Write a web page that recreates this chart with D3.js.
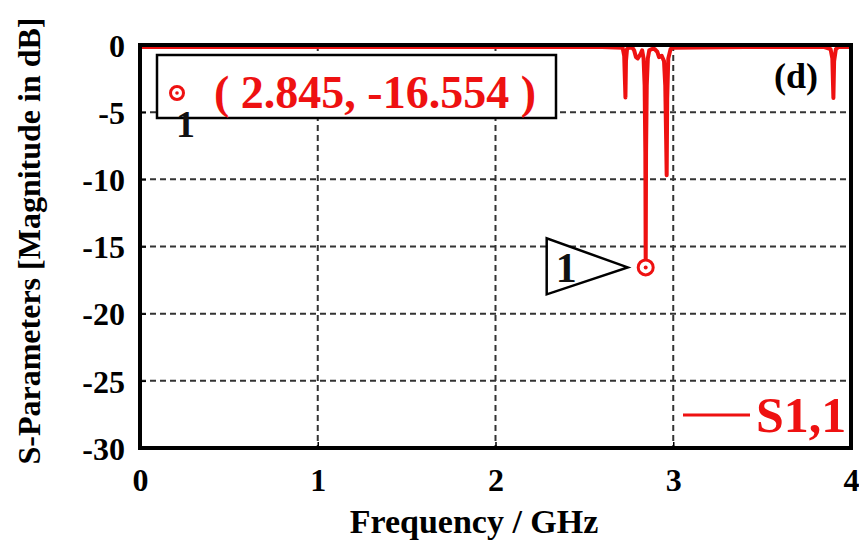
<!DOCTYPE html>
<html>
<head>
<meta charset="utf-8">
<script src="https://cdn.jsdelivr.net/npm/d3@7"></script>
<style>
  body { margin: 0; background: white; }
  svg { display: block; }
  text { font-family: "Liberation Serif", "Times New Roman", serif; font-weight: bold; }
</style>
</head>
<body>
<div id="chart"></div>
<script>
var width = 859
var height = 545
var margin = {top: 45, right: 8, bottom: 97, left: 140}

// Data

var freqGHz = [0, 1.0, 2.0, 2.60, 2.715, 2.724, 2.729, 2.731, 2.734, 2.74, 2.75,
    2.77, 2.78, 2.79, 2.80, 2.815, 2.825, 2.833, 2.839, 2.843, 2.845, 2.847, 2.851, 2.857, 2.865,
    2.88, 2.895, 2.91, 2.92, 2.935, 2.948, 2.955, 2.960, 2.963, 2.966, 2.972, 2.985,
    3.0, 3.4, 3.85, 3.885, 3.895, 3.899, 3.901, 3.905, 3.915, 3.93, 4.0];
var s11dB = [-0.15, -0.15, -0.15, -0.15, -0.2, -0.8, -3.0, -3.9, -1.2, -0.3, -0.2,
    -0.2, -0.4, -0.9, -1.0, -0.7, -0.4, -1.0, -3.0, -8.0, -16.554, -8.0, -3.0, -1.0, -0.4,
    -0.3, -0.3, -0.5, -0.9, -0.8, -1.2, -3.0, -7.0, -9.7, -4.0, -1.0, -0.3,
    -0.2, -0.15, -0.15, -0.3, -1.0, -3.0, -3.95, -1.2, -0.3, -0.15, -0.15];

var xTicks = [0, 1, 2, 3, 4];
var yTicks = [0, -5, -10, -15, -20, -25, -30];

var markerFreq = 2.845;
var markerDb = -16.554;
var markerLabel = "( 2.845, -16.554 )";
var seriesName = "S1,1";

var red = "#ee1111";

// Scales

var x_scale = d3.scaleLinear()
    .domain([0, 4])
    .range([margin.left, width - margin.right]);

var y_scale = d3.scaleLinear()
    .domain([-30, 0])
    .range([height - margin.bottom, margin.top]);

var svg = d3.select("#chart")
    .append("svg")
    .attr("width", width)
    .attr("height", height)
    .style("background-color", "white");

svg.append("clipPath")
    .attr("id", "plot-clip")
    .append("rect")
    .attr("x", margin.left)
    .attr("y", margin.top)
    .attr("width", width - margin.left - margin.right)
    .attr("height", height - margin.top - margin.bottom);

// Grid

var grid = svg.append("g")
    .attr("stroke", "#333")
    .attr("stroke-width", 2)
    .attr("stroke-dasharray", "6,4");

grid.selectAll("line.gx")
    .data(xTicks.slice(1, -1))
    .enter()
    .append("line")
    .attr("x1", function(d) { return x_scale(d); })
    .attr("x2", function(d) { return x_scale(d); })
    .attr("y1", margin.top)
    .attr("y2", height - margin.bottom);

grid.selectAll("line.gy")
    .data(yTicks.slice(1, -1))
    .enter()
    .append("line")
    .attr("x1", margin.left)
    .attr("x2", width - margin.right)
    .attr("y1", function(d) { return y_scale(d); })
    .attr("y2", function(d) { return y_scale(d); });

// Axes (ticks point inwards)

var xAxis = d3.axisBottom(x_scale).tickValues(xTicks).tickSize(-6).tickPadding(20).tickFormat(String);
var yAxis = d3.axisLeft(y_scale).tickValues(yTicks).tickSize(-6).tickPadding(15).tickFormat(String);

var gx = svg.append("g")
    .attr("transform", "translate(0," + (height - margin.bottom) + ")")
    .call(xAxis);
var gy = svg.append("g")
    .attr("transform", "translate(" + margin.left + ",0)")
    .call(yAxis);

[gx, gy].forEach(function(g) {
    g.select(".domain").remove();
    g.selectAll(".tick line").attr("stroke", "#000").attr("stroke-width", 1.5);
    g.selectAll(".tick text")
        .attr("fill", "#000")
        .style("font-size", "32px")
        .style("font-family", "'Liberation Serif', serif")
        .style("font-weight", "bold");
});
gx.selectAll(".tick text").attr("dy", "0.71em");
gy.selectAll(".tick text").attr("dy", "0.35em");

// Series

var line = d3.line()
    .x(function(d, i) { return x_scale(freqGHz[i]); })
    .y(function(d) { return y_scale(d); });

svg.append("path")
    .datum(s11dB)
    .attr("clip-path", "url(#plot-clip)")
    .attr("fill", "none")
    .attr("stroke", red)
    .attr("stroke-width", 4)
    .attr("stroke-linejoin", "round")
    .attr("d", line);

// Frame

svg.append("rect")
    .attr("x", margin.left)
    .attr("y", margin.top)
    .attr("width", width - margin.left - margin.right)
    .attr("height", height - margin.top - margin.bottom)
    .attr("fill", "none")
    .attr("stroke", "#000")
    .attr("stroke-width", 4);

// Marker on the curve

var mx = x_scale(markerFreq), my = y_scale(markerDb);
svg.append("circle").attr("cx", mx).attr("cy", my).attr("r", 7.5)
    .attr("fill", "white").attr("stroke", red).attr("stroke-width", 3);
svg.append("circle").attr("cx", mx).attr("cy", my).attr("r", 2).attr("fill", red);

svg.append("path")
    .attr("d", "M" + (mx - 99) + "," + (my - 29) + "L" + (mx - 99) + "," + (my + 27) + "L" + (mx - 18) + "," + my + "Z")
    .attr("fill", "white")
    .attr("stroke", "#000")
    .attr("stroke-width", 2.5);
svg.append("text")
    .attr("x", mx - 90).attr("y", my + 15)
    .style("font-size", "42px")
    .attr("fill", "#111")
    .text("1");

// Marker readout box

svg.append("rect")
    .attr("x", 157).attr("y", 55)
    .attr("width", 399).attr("height", 63)
    .attr("fill", "white")
    .attr("stroke", "#000")
    .attr("stroke-width", 2.5);
svg.append("circle").attr("cx", 177).attr("cy", 93).attr("r", 6.5)
    .attr("fill", "white").attr("stroke", red).attr("stroke-width", 3);
svg.append("circle").attr("cx", 177).attr("cy", 93).attr("r", 1.8).attr("fill", red);
svg.append("text")
    .attr("x", 176).attr("y", 137)
    .style("font-size", "38px")
    .attr("fill", "#111")
    .text("1");
svg.append("text")
    .attr("x", 214).attr("y", 108)
    .style("font-size", "46px")
    .attr("fill", red)
    .text(markerLabel);

// Panel tag

svg.append("text")
    .attr("x", 774).attr("y", 88)
    .style("font-size", "36px")
    .attr("fill", "#000")
    .text("(d)");

// Legend

svg.append("line")
    .attr("x1", 683).attr("x2", 750)
    .attr("y1", 415).attr("y2", 415)
    .attr("stroke", red).attr("stroke-width", 3);
svg.append("text")
    .attr("x", 756).attr("y", 432)
    .style("font-size", "50px")
    .attr("fill", red)
    .text(seriesName);

// Axis titles

svg.append("text")
    .attr("x", 474)
    .attr("y", 533)
    .attr("text-anchor", "middle")
    .style("font-size", "34px")
    .attr("fill", "#000")
    .text("Frequency / GHz");

svg.append("text")
    .attr("transform", "translate(40,241) rotate(-90)")
    .attr("text-anchor", "middle")
    .style("font-size", "32px")
    .attr("fill", "#000")
    .text("S-Parameters [Magnitude in dB]");
</script>
</body>
</html>
